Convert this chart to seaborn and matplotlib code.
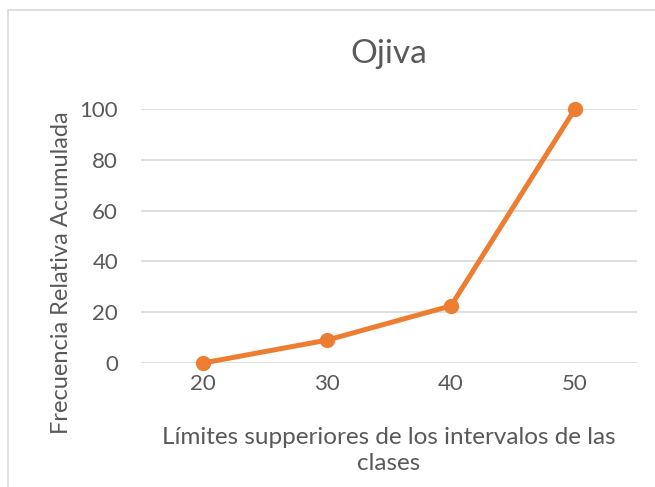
import matplotlib
matplotlib.use("Agg")
import matplotlib.pyplot as plt
from matplotlib.patches import Rectangle
import seaborn as sns
import pandas as pd

# datos de la ojiva
limites = ["20", "30", "40", "50"]
frec_rel_acum = [0, 9, 22.5, 100]
y_ticks = [0, 20, 40, 60, 80, 100]

df = pd.DataFrame({"limite": limites, "frecuencia": frec_rel_acum})

sns.set_style("white")
plt.rcParams["font.family"] = ["Lato", "DejaVu Sans"]
gris = "#595959"
naranja = "#ED7D31"

fig = plt.figure(figsize=(6.55, 4.87), dpi=100)
ax = fig.add_axes([141 / 655, 1 - 363 / 487, 496 / 655, 254 / 487])

# marco del grafico
fig.patches.append(Rectangle((8 / 655, -0.1), 1.2, 1 - 10 / 487 + 0.1,
                             transform=fig.transFigure, fill=False,
                             edgecolor="#D9D9D9", linewidth=1.2))

sns.lineplot(data=df, x="limite", y="frecuencia", ax=ax, color=naranja,
             linewidth=3.6, marker="o", markersize=11, markeredgewidth=0,
             sort=False)
for ln in ax.lines:
    ln.set_clip_on(False)

ax.set_xlim(-0.5, 3.5)
ax.set_ylim(0, 100)
ax.set_yticks(y_ticks)
ax.yaxis.grid(True, color="#D9D9D9", linewidth=1.2)
ax.set_axisbelow(True)
for s in ax.spines.values():
    s.set_visible(False)
ax.tick_params(axis="both", length=0, labelsize=16, colors=gris)
ax.tick_params(axis="y", pad=16.5)
ax.tick_params(axis="x", pad=8)

ax.set_title("Ojiva", fontsize=24, color=gris, y=1.15)
ax.set_xlabel("Límites supperiores de los intervalos de las\nclases",
              fontsize=17.5, color=gris, linespacing=1.35)
ax.set_ylabel("Frecuencia Relativa Acumulada", fontsize=17, color=gris)
ax.yaxis.set_label_coords(-0.14, 0.354)
ax.xaxis.set_label_coords(0.5, -0.25)
ax.xaxis.label.set_va("top")

fig.savefig("out.png", dpi=100)
